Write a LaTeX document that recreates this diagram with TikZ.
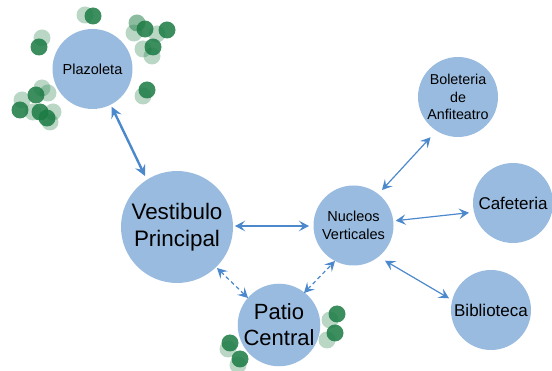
\documentclass[tikz,border=0pt]{standalone}
\usepackage{fontspec}
\setmainfont{Liberation Sans}
\usetikzlibrary{arrows.meta,calc}
\definecolor{circfill}{HTML}{99BBDF}
\definecolor{arrcol}{HTML}{4C88CC}
\definecolor{dotgreen}{HTML}{1A7A42}
\tikzset{
  place/.style={circle,fill=circfill,draw=none,inner sep=0pt,align=center,text=black},
  conn/.style={draw=arrcol,line width=1.2pt,{Stealth[length=10pt,width=10.5pt,inset=4pt]}-{Stealth[length=10pt,width=10.5pt,inset=4pt]}},
  thickconn/.style={draw=arrcol,line width=2.4pt,{Stealth[length=11pt,width=11pt,inset=4pt]}-{Stealth[length=11pt,width=11pt,inset=4pt]}},
  dashconn/.style={conn,dash pattern=on 4pt off 3pt},
  dkdot/.style={fill=dotgreen,fill opacity=0.85},
  mddot/.style={fill=dotgreen,fill opacity=0.5},
  ltdot/.style={fill=dotgreen,fill opacity=0.3},
}
\begin{document}
\begin{tikzpicture}[x=1pt,y=-1pt]
\useasboundingbox (0,0) rectangle (552,371);
% places
\node[place,minimum size=80pt,font=\fontsize{14.5pt}{17.4pt}\selectfont] (pl) at (92.5,69) {Plazoleta};
\node[place,minimum size=112pt,font=\fontsize{22.4pt}{27pt}\selectfont] (vp) at (177,227) {Vestibulo\\Principal};
\node[place,minimum size=80pt,font=\fontsize{14.5pt}{17.4pt}\selectfont] (nv) at (353.5,225.5) {Nucleos\\Verticales};
\node[place,minimum size=80pt,font=\fontsize{22pt}{26pt}\selectfont] (pc) at (279,325) {Patio\\Central};
\node[place,minimum size=80pt,font=\fontsize{14.3pt}{17.2pt}\selectfont] (bo) at (458,97) {Boleteria\\de\\Anfiteatro};
\node[place,minimum size=80pt,font=\fontsize{17pt}{20.4pt}\selectfont] (ca) at (513,203) {Cafeteria};
\node[place,minimum size=80pt,font=\fontsize{17pt}{20.4pt}\selectfont] (bi) at (491,310) {Biblioteca};
% connectors
\draw[thickconn] ($(pl)+(19.2,37.7)$) -- ($(vp)+(-32,-51)$);
\draw[conn] ($(vp)+(58,-1)$) -- ($(nv)+(-44.5,0.5)$);
\draw[dashconn] ($(vp)+(40,41)$) -- ($(pc)+(-31,-27)$);
\draw[dashconn] ($(pc)+(25,-32)$) -- ($(nv)+(-18.5,35.5)$);
\draw[conn] ($(nv)+(28.5,-35.5)$) -- ($(bo)+(-27.5,40.3)$);
\draw[conn] ($(nv)+(42.2,-4.8)$) -- ($(ca)+(-44,9.7)$);
\draw[conn] ($(nv)+(31.5,35.2)$) -- ($(bi)+(-42,-11.7)$);
% green dots
\foreach \p in {(85,15),(42,38),(134,33),(157,34),(143,49),(152,56),(143,96),(42,88),(48,93),(22,100),(53,112),(50,122),(33,112),(330,320),(327,340),(228,349),(238,365)}
  \fill[ltdot] \p circle (8.5);
\foreach \p in {(137,23)}
  \fill[mddot] \p circle (8.5);
\foreach \p in {(93,16),(39,47),(145,29),(167,30),(153,47),(147,90),(36,95),(20,110),(40,112),(47,118),(337,314),(335,333),(230,343),(240,359)}
  \fill[dkdot] \p circle (8.5);
\end{tikzpicture}
\end{document}
